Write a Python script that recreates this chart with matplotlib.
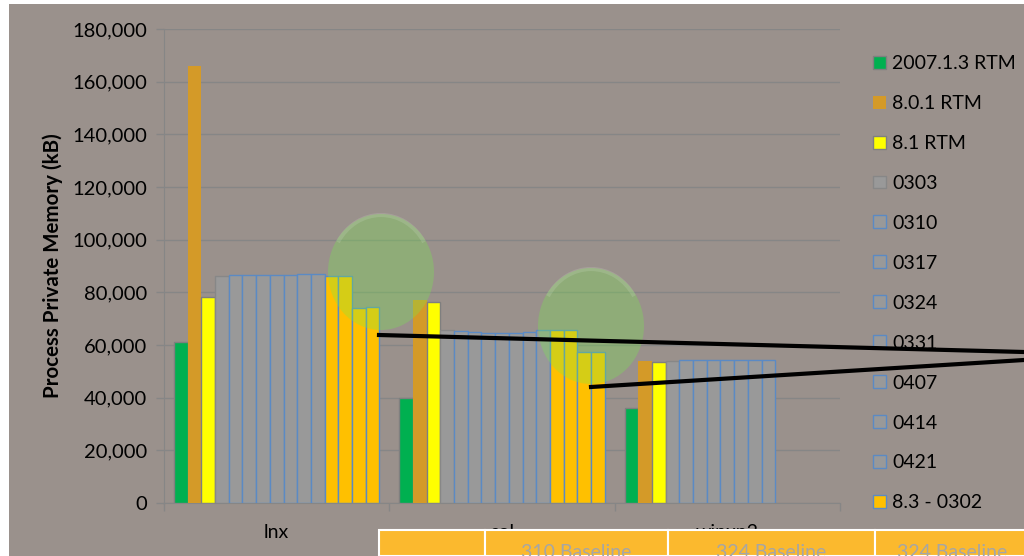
import matplotlib.pyplot as plt
from matplotlib.patches import Rectangle, Ellipse, Arc
from matplotlib.lines import Line2D
from matplotlib.ticker import FuncFormatter
import numpy as np

plt.rcParams.update({
    "font.family": "Lato",
    "font.size": 14,
})

BG = "#9a918c"
GRID = "#868686"

# categories on the x axis
groups = ["lnx", "sol", "winxp2"]

# series names, in bar order (only the first 12 show in the legend)
series = ["2007.1.3 RTM", "8.0.1 RTM", "8.1 RTM",
          "0303", "0310", "0317", "0324", "0331", "0407", "0414", "0421",
          "8.3 - 0302", "8.3 - 0309", "8.3 - 0316", "8.3 - 0323"]

# values in kB, one list per series: [lnx, sol, winxp2]
rtm_2007 = [61000, 40000, 36000]
rtm_801 = [166000, 77000, 53900]
rtm_81 = [78300, 76400, 53600]
b0303 = [86300, 65600, 54000]
b0310 = [86700, 65300, 54300]
b0317 = [86400, 64800, 54300]
b0324 = [86700, 64700, 54300]
b0331 = [86500, 64700, 54400]
b0407 = [86600, 64700, 54300]
b0414 = [86900, 64800, 54300]
b0421 = [86800, 65600, 54300]
v83_0302 = [86100, 65700, np.nan]
v83_0309 = [86100, 65700, np.nan]
v83_0316 = [73900, 57500, np.nan]
v83_0323 = [74500, 57400, np.nan]

values = [rtm_2007, rtm_801, rtm_81, b0303, b0310, b0317, b0324, b0331,
          b0407, b0414, b0421, v83_0302, v83_0309, v83_0316, v83_0323]

# table cells under the chart (cut off by the slide edge)
table_labels = ["", "310 Baseline", "324 Baseline", "324 Baseline"]

GRAY_FILL = "#999999"
BLUE_EDGE = "#5b8ac4"
styles = ([("#00b050", "#7f7f7f"), ("#d49a28", "none"), ("#ffff00", "#7f7f7f"),
           (GRAY_FILL, "#878787")]
          + [(GRAY_FILL, BLUE_EDGE)] * 7
          + [("#ffc000", BLUE_EDGE)] * 4)

fig = plt.figure(figsize=(10.24, 5.56), dpi=100)
fig.patch.set_facecolor("white")
# slide background (thin white margin left and top)
fig.patches.append(Rectangle((9 / 1024, 0), 1, 1 - 4 / 556, transform=fig.transFigure,
                             facecolor=BG, edgecolor="none", zorder=-10))

ax = fig.add_axes([164 / 1024, 1 - 503 / 556, 676 / 1024, 474 / 556])
ax.set_facecolor(BG)

n = len(series)
gap = 0.09
w = (1 - gap) / n
x = np.arange(len(groups))
for i, (name, vals) in enumerate(zip(series, values)):
    fc, ec = styles[i]
    vals = np.array(vals, dtype=float)
    ok = ~np.isnan(vals)
    lw = 0 if ec == "none" else 1.0
    ax.bar(x[ok] + (i - (n - 1) / 2) * w, vals[ok], width=w, color=fc,
           edgecolor=ec, linewidth=lw, zorder=3,
           label=name if i < 12 else "_nolegend_")

ax.set_xlim(-0.5, 2.5)
ax.set_ylim(0, 180000)
ax.set_yticks(np.arange(0, 180001, 20000))
ax.yaxis.set_major_formatter(FuncFormatter(lambda v, p: f"{int(v):,}"))
ax.set_xticks(x)
ax.set_xticklabels(groups)
ax.set_xticks([-0.5, 0.5, 1.5, 2.5], minor=True)
ax.tick_params(axis="x", which="major", length=0, pad=15)
ax.tick_params(axis="x", which="minor", length=6, color=GRID, width=1)
ax.tick_params(axis="y", length=6, color=GRID, width=1, pad=6, labelsize=14.5)
ax.grid(axis="y", color=GRID, linewidth=1, zorder=0)
ax.set_axisbelow(True)
for s in ["top", "right"]:
    ax.spines[s].set_visible(False)
for s in ["left", "bottom"]:
    ax.spines[s].set_color(GRID)
ax.set_ylabel("Process Private Memory (kB)", fontweight="bold", fontsize=14.8, labelpad=7)

leg = fig.legend(loc="upper left", bbox_to_anchor=(873 / 1024, 1 - 55 / 556),
                 frameon=False, fontsize=14, handlelength=0.65, handleheight=0.65,
                 handletextpad=0.35, labelspacing=1.18, borderpad=0, borderaxespad=0)

# highlight circles (with a faint gloss on top) and callout lines
for cx, cy in [(381, 272), (591, 326)]:
    fig.patches.append(Ellipse((cx / 1024, 1 - cy / 556), 106 / 1024, 116 / 556,
                               transform=fig.transFigure, facecolor="#76ec4a",
                               alpha=0.3, edgecolor="none", zorder=5))
    fig.patches.append(Arc((cx / 1024, 1 - (cy - 2) / 556), 100 / 1024, 110 / 556,
                           theta1=50, theta2=130, transform=fig.transFigure,
                           edgecolor="white", alpha=0.12, linewidth=3, zorder=5))
for (x0, y0), (x1, y1) in [((379, 335), (1024, 352)), ((591, 387), (1024, 360))]:
    fig.lines.append(Line2D([x0 / 1024, x1 / 1024], [1 - y0 / 556, 1 - y1 / 556],
                            transform=fig.transFigure, color="black",
                            linewidth=3, zorder=6))

# table strip at the bottom
col_edges = [379, 485, 668, 875, 1030]
for j, lab in enumerate(table_labels):
    l, r = col_edges[j], col_edges[j + 1]
    fig.patches.append(Rectangle((l / 1024, 0), (r - l) / 1024, 26 / 556,
                                 transform=fig.transFigure, facecolor="#fbb92e",
                                 edgecolor="white", linewidth=1.5, zorder=7))
    if lab:
        fig.text((l + r) / 2 / 1024, 4 / 556, lab, ha="center", va="center",
                 color="#a6a6a6", fontsize=14, zorder=8)

plt.savefig("out.png", dpi=100, facecolor=fig.get_facecolor())
plt.close()
